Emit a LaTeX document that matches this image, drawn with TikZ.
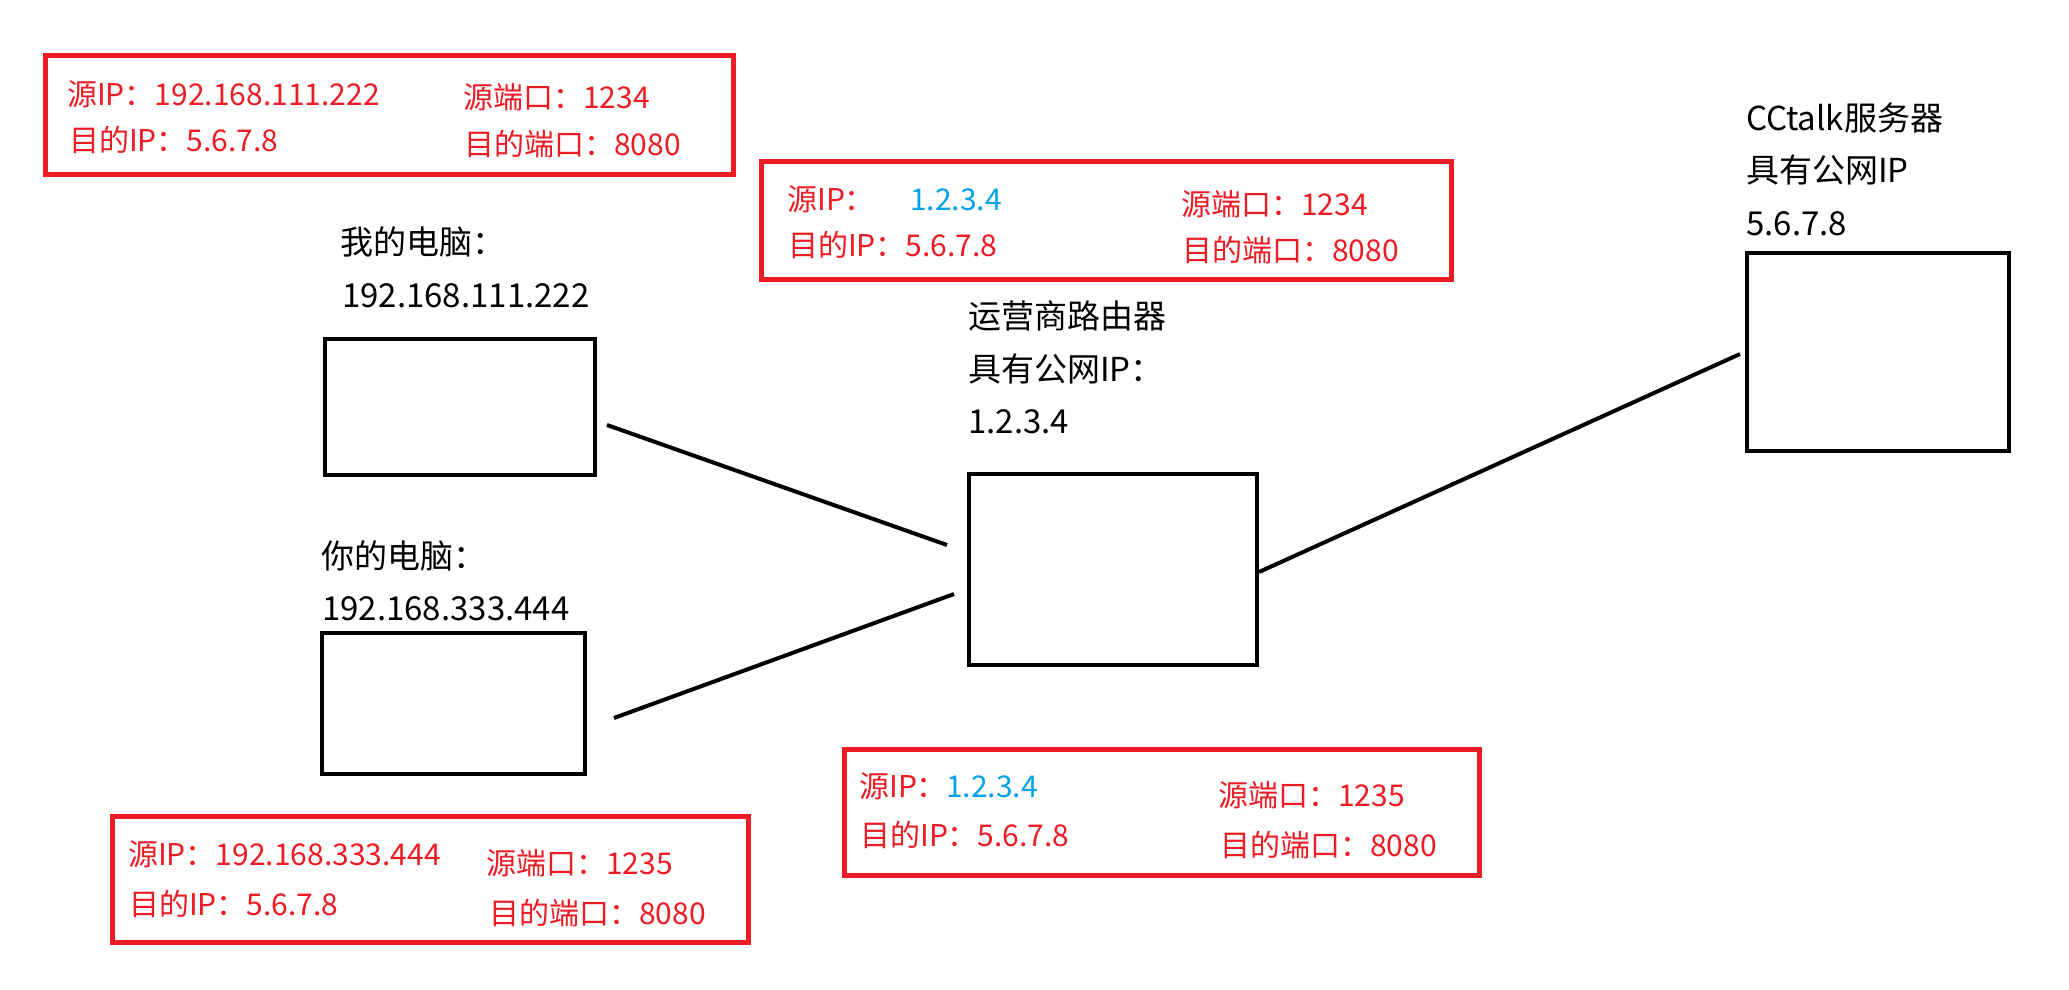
\documentclass[tikz,border=0pt]{standalone}
\usepackage{fontspec}
\setmainfont{Noto Sans CJK SC}
\definecolor{pred}{HTML}{ED1C24}
\definecolor{pblue}{HTML}{00A2E8}
\begin{document}
\begin{tikzpicture}[x=1pt,y=-1pt,
  box/.style={draw=black,line width=4pt,inner sep=0pt},
  rbox/.style={draw=pred,line width=5pt,inner sep=0pt},
  lbl/.style={anchor=base west,inner sep=0pt,font=\fontsize{33}{33}\selectfont},
  rt/.style={anchor=base west,inner sep=0pt,font=\fontsize{30}{30}\selectfont,text=pred},
  bt/.style={rt,text=pblue},
  conn/.style={line width=4pt}]
\useasboundingbox[fill=white] (0,0) rectangle (2069,989);

% red info boxes
\node[rbox,minimum width=688pt,minimum height=119pt] (r1) at (389.5,115) {};
\node[rbox,minimum width=690pt,minimum height=118pt] (r2) at (1106.5,220.5) {};
\node[rbox,minimum width=636pt,minimum height=126pt] (r3) at (430.5,879.5) {};
\node[rbox,minimum width=635pt,minimum height=126pt] (r4) at (1162,812.5) {};

% box 1 text
\node[rt] (t11) at (67,105) {源IP：192.168.111.222};
\node[rt] (t12) at (69,151) {目的IP：5.6.7.8};
\node[rt] (t13) at (463,108) {源端口：1234};
\node[rt] (t14) at (464,155) {目的端口：8080};
% box 2 text
\node[rt] (t21) at (787,210) {源IP：};
\node[bt] (t21b) at (910,210) {1.2.3.4};
\node[rt] (t22) at (788,256) {目的IP：5.6.7.8};
\node[rt] (t23) at (1181,215) {源端口：1234};
\node[rt] (t24) at (1182,261) {目的端口：8080};
% box 3 text
\node[rt] (t31) at (128,865) {源IP：192.168.333.444};
\node[rt] (t32) at (129,915) {目的IP：5.6.7.8};
\node[rt] (t33) at (486,874) {源端口：1235};
\node[rt] (t34) at (489,924) {目的端口：8080};
% box 4 text
\node[rt] (t41) at (859,797) {源IP：};
\node[bt] (t41b) at (946,797) {1.2.3.4};
\node[rt] (t42) at (860,846) {目的IP：5.6.7.8};
\node[rt] (t43) at (1218,806) {源端口：1235};
\node[rt] (t44) at (1220,856) {目的端口：8080};

% device labels
\node[lbl] (la1) at (340,254) {我的电脑：};
\node[lbl] (la2) at (342,307) {192.168.111.222};
\node[lbl] (lb1) at (321,568) {你的电脑：};
\node[lbl] (lb2) at (322,620) {192.168.333.444};
\node[lbl] (lr1) at (968,328) {运营商路由器};
\node[lbl] (lr2) at (968,381) {具有公网IP：};
\node[lbl] (lr3) at (968,433) {1.2.3.4};
\node[lbl] (ls1) at (1746,130) {CCtalk服务器};
\node[lbl] (ls2) at (1746,182) {具有公网IP};
\node[lbl] (ls3) at (1746,235) {5.6.7.8};

% device boxes
\node[box,minimum width=270pt,minimum height=136pt] (pcA) at (460,407) {};
\node[box,minimum width=263pt,minimum height=141pt] (pcB) at (453.5,703.5) {};
\node[box,minimum width=288pt,minimum height=191pt] (router) at (1113,569.5) {};
\node[box,minimum width=262pt,minimum height=198pt] (server) at (1878,352) {};

% connectors
\coordinate (a1) at (607,425);
\coordinate (a2) at (947,545);
\coordinate (b1) at (614,718);
\coordinate (b2) at (954,594);
\coordinate (s1) at (router.east |- 0,572);
\coordinate (s2) at (1740,354);
\draw[conn] (a1) -- (a2);
\draw[conn] (b1) -- (b2);
\draw[conn] (s1) -- (s2);
\end{tikzpicture}
\end{document}
